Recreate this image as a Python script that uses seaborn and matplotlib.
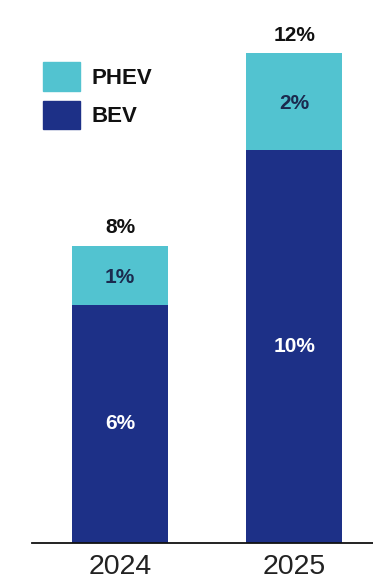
import matplotlib
matplotlib.use("Agg")
import matplotlib.pyplot as plt
import matplotlib.patches as mpatches
import seaborn as sns
import pandas as pd

# Plug-in vehicle share of new sales, in percent
years = ["2024", "2025"]
bev = [6.04, 9.95]
phev = [1.49, 2.45]

series_names = ["PHEV", "BEV"]
phev_color = "#52C3D0"
bev_color = "#1D3087"

sns.set_theme(style="white")
plt.rcParams["font.family"] = ["Liberation Sans", "DejaVu Sans"]

totals = [b + p for b, p in zip(bev, phev)]
df = pd.DataFrame({"year": years, "BEV": bev, "PHEV": phev, "total": totals})

fig = plt.figure(figsize=(3.73, 5.86), dpi=100)
ax = fig.add_axes([32 / 373, 43 / 586, 341 / 373, 533 / 586])

# Stacked bars: full height in the PHEV colour, BEV drawn over the lower part
sns.barplot(data=df, x="year", y="total", color=phev_color, width=0.55,
            linewidth=0, saturation=1, ax=ax, order=years)
sns.barplot(data=df, x="year", y="BEV", color=bev_color, width=0.55,
            linewidth=0, saturation=1, ax=ax, order=years)

ax.set_xlim(-0.504, 1.45)
ax.set_ylim(0, 13.5)
ax.set_xlabel("")
ax.set_ylabel("")
ax.set_yticks([])
for side in ["top", "right", "left"]:
    ax.spines[side].set_visible(False)
ax.spines["bottom"].set_color("#111111")
ax.spines["bottom"].set_linewidth(1.3)
ax.tick_params(axis="x", length=0, pad=8, labelsize=20.5, labelcolor="#222222")

for i, (b, p, t) in enumerate(zip(bev, phev, totals)):
    ax.text(i, b / 2, f"{b:.0f}%", ha="center", va="center",
            color="white", fontsize=15, fontweight="bold")
    ax.text(i, b + p / 2 - 0.05, f"{p:.0f}%", ha="center", va="center",
            color="#1B2A4E", fontsize=15, fontweight="bold")
    ax.text(i, t + 0.22, f"{t:.0f}%", ha="center", va="bottom",
            color="#111111", fontsize=15, fontweight="bold")

handles = [mpatches.Patch(color=phev_color, label=series_names[0]),
           mpatches.Patch(color=bev_color, label=series_names[1])]
leg = fig.legend(handles=handles, loc="upper left", bbox_to_anchor=(0.115, 0.894),
                 frameon=False, fontsize=16, handlelength=1.65, handleheight=1.6,
                 handletextpad=0.55, labelspacing=0.45, borderaxespad=0,
                 borderpad=0)
for txt in leg.get_texts():
    txt.set_fontweight("bold")
    txt.set_color("#111111")

fig.savefig("out.png", dpi=100, facecolor="white")
